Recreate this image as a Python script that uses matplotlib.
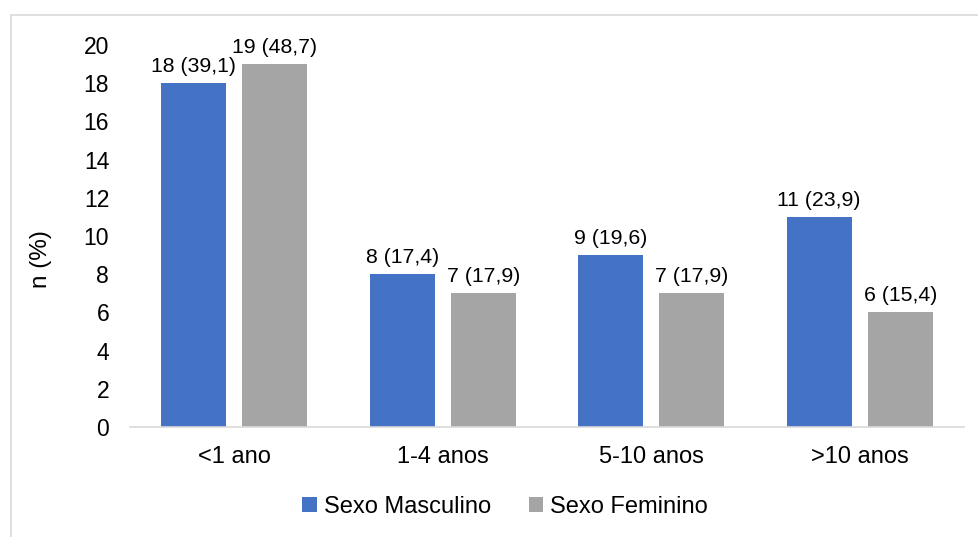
import numpy as np
import matplotlib.pyplot as plt
from matplotlib.patches import Rectangle

# Tempo de diagnóstico por sexo: n e (%)
categorias = ["<1 ano", "1-4 anos", "5-10 anos", ">10 anos"]
masc_n = [18, 8, 9, 11]
masc_pct = [39.1, 17.4, 19.6, 23.9]
fem_n = [19, 7, 7, 6]
fem_pct = [48.7, 17.9, 17.9, 15.4]

plt.rcParams["font.family"] = ["Liberation Sans", "DejaVu Sans"]

fig = plt.figure(figsize=(9.79, 5.37), dpi=100)
ax = fig.add_axes([130 / 979, 1 - 427 / 537, 834 / 979, 382 / 537])

# moldura cinza clara em volta do gráfico
fig.patches.append(Rectangle((11 / 979, -0.05), 1.1, 1 - 15 / 537 + 0.05,
                             transform=fig.transFigure, fill=False,
                             edgecolor="#D9D9D9", linewidth=1.2))

x = np.arange(len(categorias))
largura = 0.312
desloc = 0.1945

b1 = ax.bar(x - desloc, masc_n, largura, color="#4472C4", label="Sexo Masculino")
b2 = ax.bar(x + desloc, fem_n, largura, color="#A5A5A5", label="Sexo Feminino")

def rotulo(n, p):
    return f"{n} ({p:.1f})".replace(".", ",")

for barras, ns, ps in [(b1, masc_n, masc_pct), (b2, fem_n, fem_pct)]:
    for rect, n, p in zip(barras, ns, ps):
        ax.annotate(rotulo(n, p), (rect.get_x() + rect.get_width() / 2, n),
                    xytext=(0, 5), textcoords="offset points",
                    ha="center", va="bottom", fontsize=15.3)

ax.set_xlim(-0.5, 3.5)
ax.set_ylim(0, 20)
ax.set_yticks(range(0, 21, 2))
ax.set_xticks(x)
ax.set_xticklabels(categorias)
ax.tick_params(axis="both", length=0)
ax.tick_params(axis="x", pad=14, labelsize=17)
ax.tick_params(axis="y", pad=15, labelsize=16.5)

for lado in ["top", "right", "left"]:
    ax.spines[lado].set_visible(False)
ax.spines["bottom"].set_color("#D9D9D9")
ax.spines["bottom"].set_linewidth(1.2)

ax.set_ylabel("n (%)", fontsize=17.5)
ax.yaxis.set_label_coords(-0.094, 0.44)

fig.legend(handles=[b1, b2], loc="center", bbox_to_anchor=(505 / 979, 1 - 507 / 537),
           ncol=2, frameon=False, fontsize=17, handlelength=0.6, handleheight=0.6,
           handletextpad=0.3, columnspacing=1.6)

fig.savefig("out.png", dpi=100)
